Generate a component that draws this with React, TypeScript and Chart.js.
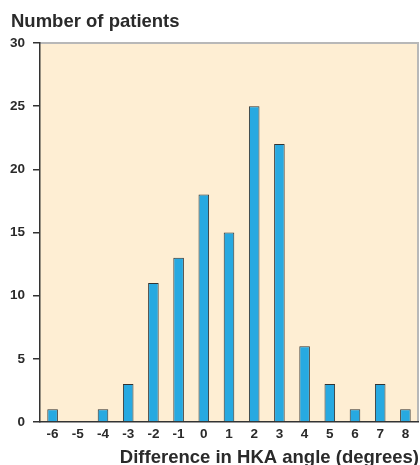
import React, { useEffect, useRef } from "react";
import { Chart, registerables } from "chart.js";

Chart.register(...registerables);

const categories = ["-6", "-5", "-4", "-3", "-2", "-1", "0", "1", "2", "3", "4", "5", "6", "7", "8"];
const patients = [1, 0, 1, 3, 11, 13, 18, 15, 25, 22, 6, 3, 1, 3, 1];
const yTitle = "Number of patients";
const xTitle = "Difference in HKA angle (degrees)";

const FONT = "'Liberation Sans', Arial, Helvetica, sans-serif";

const decor = {
  id: "decor",
  beforeDraw(chart: any) {
    const { ctx, chartArea: a } = chart;
    ctx.save();
    ctx.fillStyle = "#FEEED3";
    ctx.fillRect(a.left, a.top, a.right - a.left, a.bottom - a.top);
    ctx.strokeStyle = "#b8b8b8";
    ctx.lineWidth = 2;
    ctx.beginPath();
    ctx.moveTo(a.left, a.top);
    ctx.lineTo(a.right, a.top);
    ctx.lineTo(a.right, a.bottom);
    ctx.stroke();
    ctx.restore();
  },
  afterDraw(chart: any) {
    const { ctx, chartArea: a } = chart;
    ctx.save();
    ctx.fillStyle = "#2a2a2a";
    ctx.font = `bold 18.5px ${FONT}`;
    ctx.textAlign = "left";
    ctx.textBaseline = "alphabetic";
    ctx.fillText(yTitle, 11, 26.5);
    ctx.textAlign = "right";
    ctx.fillText(xTitle, a.right + 1, 463);
    ctx.restore();
  },
};

export default function App() {
  const ref = useRef<HTMLCanvasElement>(null);
  useEffect(() => {
    document.body.style.margin = "0";
    const chart = new Chart(ref.current!, {
      type: "bar",
      data: {
        labels: categories,
        datasets: [
          {
            data: patients,
            backgroundColor: "#27A9E1",
            borderColor: "#333",
            borderWidth: 1,
            barPercentage: 0.42,
            categoryPercentage: 1,
          },
        ],
      },
      options: {
        responsive: false,
        animation: false,
        layout: { padding: { top: 43, right: 2, left: 0, bottom: 0 } },
        plugins: { legend: { display: false }, tooltip: { enabled: false } },
        scales: {
          x: {
            grid: { display: false, drawTicks: false, tickLength: 0 },
            border: { color: "#333", width: 1.5 },
            ticks: { color: "#2a2a2a", font: { family: FONT, size: 13.5, weight: "bold" }, padding: 4 },
            afterFit: (s: any) => { s.height = 43; },
          },
          y: {
            min: 0,
            max: 30,
            ticks: { stepSize: 5, color: "#2a2a2a", font: { family: FONT, size: 13.5, weight: "bold" }, padding: 8 },
            grid: { drawOnChartArea: false, tickLength: 7, color: "#333", lineWidth: 1.5 },
            border: { color: "#333", width: 1.5 },
            afterFit: (s: any) => { s.width = 40; },
          },
        },
      },
      plugins: [decor],
    });
    return () => chart.destroy();
  }, []);
  return <canvas ref={ref} width={420} height={465} style={{ display: "block" }} />;
}
